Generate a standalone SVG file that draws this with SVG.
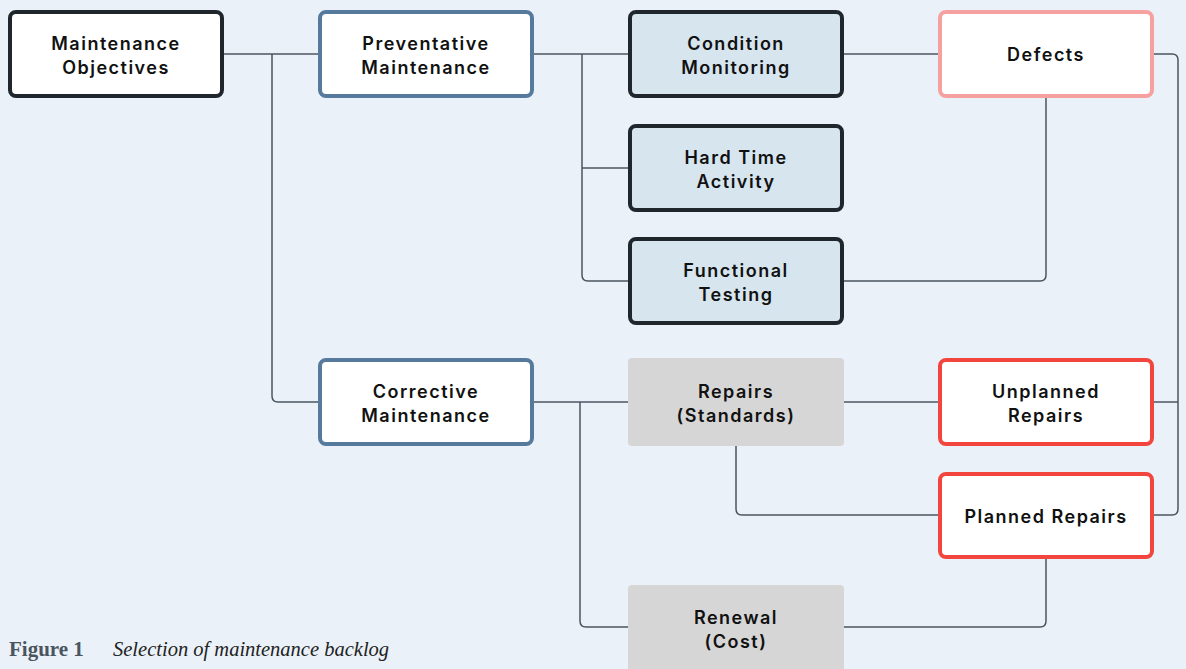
<svg xmlns="http://www.w3.org/2000/svg" width="1186" height="669" viewBox="0 0 1186 669">
<style>
.bg{fill:#eaf1f9}
.box{stroke-width:4}
.dark{fill:#d7e5ef;stroke:#1f262c}
.obj{fill:#ffffff;stroke:#1f262c}
.blue{fill:#ffffff;stroke:#557a9c}
.pink{fill:#ffffff;stroke:#f6a19f}
.red{fill:#ffffff;stroke:#f2453d}
.grey{fill:#d6d6d6}
.t{font-family:Inter,"Noto Sans","DejaVu Sans",sans-serif;font-weight:600;font-size:18px;letter-spacing:1.5px;fill:#111111;text-anchor:middle}
.conn path{fill:none;stroke:#4b5560;stroke-width:1.5}
.cap1{font-family:"Liberation Serif","DejaVu Serif",serif;font-weight:bold;font-size:21px;fill:#4a5560}
.cap2{font-family:"Liberation Serif","DejaVu Serif",serif;font-style:italic;font-size:20.5px;fill:#222222}
</style>
<rect class="bg" x="0" y="0" width="1186" height="669"/>
<g id="connectors" class="conn">
<path d="M224,54 H318"/>
<path d="M272,54 V396 Q272,402 278,402 H318"/>
<path d="M534,54 H628"/>
<path d="M582,54 V275 Q582,281 588,281 H628"/>
<path d="M582,168 H628"/>
<path d="M844,54 H938"/>
<path d="M1046,98 V275 Q1046,281 1040,281 H844"/>
<path d="M1154,54 H1172 Q1178,54 1178,60 V509 Q1178,515 1172,515 H1154"/>
<path d="M1154,402 H1178"/>
<path d="M534,402 H628"/>
<path d="M580,402 V621 Q580,627 586,627 H628"/>
<path d="M844,402 H938"/>
<path d="M736,446 V509 Q736,515 742,515 H938"/>
<path d="M1046,558 V621 Q1046,627 1040,627 H844"/>
</g>
<g id="maintenance-objectives">
<rect class="box obj" x="10" y="12" width="212" height="84" rx="6"/>
<text class="t" x="116" y="50">Maintenance</text>
<text class="t" x="116" y="74">Objectives</text>
</g>
<g id="preventative-maintenance">
<rect class="box blue" x="320" y="12" width="212" height="84" rx="6"/>
<text class="t" x="426" y="50">Preventative</text>
<text class="t" x="426" y="74">Maintenance</text>
</g>
<g id="condition-monitoring">
<rect class="box dark" x="630" y="12" width="212" height="84" rx="6"/>
<text class="t" x="736" y="50">Condition</text>
<text class="t" x="736" y="74">Monitoring</text>
</g>
<g id="defects">
<rect class="box pink" x="940" y="12" width="212" height="84" rx="6"/>
<text class="t" x="1046" y="61">Defects</text>
</g>
<g id="hard-time-activity">
<rect class="box dark" x="630" y="126" width="212" height="84" rx="6"/>
<text class="t" x="736" y="164">Hard Time</text>
<text class="t" x="736" y="188">Activity</text>
</g>
<g id="functional-testing">
<rect class="box dark" x="630" y="239" width="212" height="84" rx="6"/>
<text class="t" x="736" y="277">Functional</text>
<text class="t" x="736" y="301">Testing</text>
</g>
<g id="corrective-maintenance">
<rect class="box blue" x="320" y="360" width="212" height="84" rx="6"/>
<text class="t" x="426" y="398">Corrective</text>
<text class="t" x="426" y="422">Maintenance</text>
</g>
<g id="repairs-standards">
<rect class="grey" x="628" y="358" width="216" height="88" rx="4"/>
<text class="t" x="736" y="398">Repairs</text>
<text class="t" x="736" y="422">(Standards)</text>
</g>
<g id="unplanned-repairs">
<rect class="box red" x="940" y="360" width="212" height="84" rx="6"/>
<text class="t" x="1046" y="398">Unplanned</text>
<text class="t" x="1046" y="422">Repairs</text>
</g>
<g id="planned-repairs">
<rect class="box red" x="940" y="474" width="212" height="83" rx="6"/>
<text class="t" x="1046" y="523">Planned Repairs</text>
</g>
<g id="renewal-cost">
<rect class="grey" x="628" y="585" width="216" height="88" rx="4"/>
<text class="t" x="736" y="624">Renewal</text>
<text class="t" x="736" y="648">(Cost)</text>
</g>
<g id="caption">
<text class="cap1" x="9" y="656">Figure 1</text>
<text class="cap2" x="113" y="656">Selection of maintenance backlog</text>
</g>
</svg>
